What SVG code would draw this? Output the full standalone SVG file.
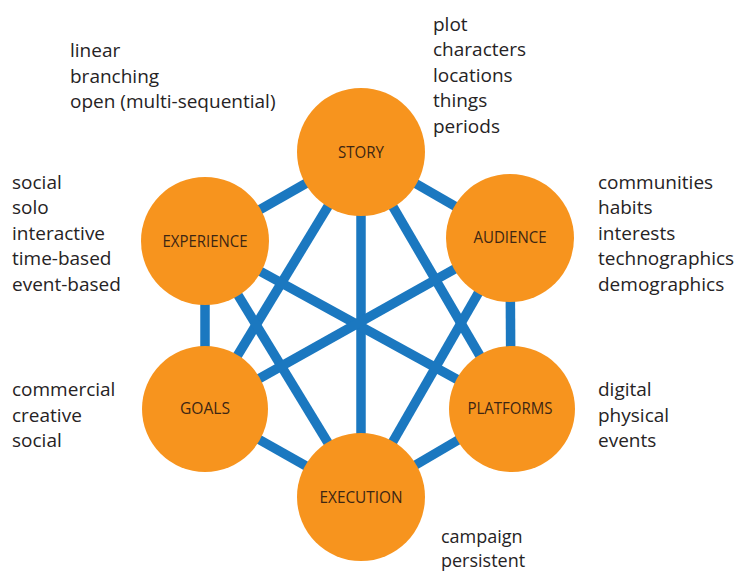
<svg xmlns="http://www.w3.org/2000/svg" width="739" height="572" viewBox="0 0 739 572">
  <style>
    .edge { stroke: #1b78c0; stroke-width: 9.5; stroke-linecap: butt; fill: none; }
    .node circle { fill: #f7941e; }
    .node text { font-family: "Open Sans", "Liberation Sans", sans-serif; font-size: 16px; fill: #3d2613; text-anchor: middle; }
    .note { font-family: "Open Sans", "Liberation Sans", sans-serif; font-size: 19px; fill: #262324; }
  </style>
  <rect width="739" height="572" fill="#ffffff"/>

  <!-- connectors between the six facets -->
  <g id="connectors">
    <line class="edge" x1="361" y1="152" x2="205" y2="241"/>
    <line class="edge" x1="361" y1="152" x2="510" y2="238"/>
    <line class="edge" x1="361" y1="152" x2="205" y2="409"/>
    <line class="edge" x1="361" y1="152" x2="511" y2="409"/>
    <line class="edge" x1="361" y1="152" x2="361" y2="497"/>
    <line class="edge" x1="205" y1="241" x2="205" y2="409"/>
    <line class="edge" x1="205" y1="241" x2="511" y2="409"/>
    <line class="edge" x1="205" y1="241" x2="361" y2="497"/>
    <line class="edge" x1="510" y1="238" x2="511" y2="409"/>
    <line class="edge" x1="510" y1="238" x2="205" y2="409"/>
    <line class="edge" x1="510" y1="238" x2="361" y2="497"/>
    <line class="edge" x1="205" y1="409" x2="361" y2="497"/>
    <line class="edge" x1="511" y1="409" x2="361" y2="497"/>
  </g>

  <g id="story" class="node">
    <circle cx="361" cy="152" r="64"/>
    <text x="361" y="158" textLength="46" lengthAdjust="spacingAndGlyphs">STORY</text>
  </g>
  <g id="audience" class="node">
    <circle cx="510" cy="238" r="64"/>
    <text x="510" y="243" textLength="73" lengthAdjust="spacingAndGlyphs">AUDIENCE</text>
  </g>
  <g id="platforms" class="node">
    <circle cx="512" cy="409" r="63"/>
    <text x="510" y="414" textLength="85" lengthAdjust="spacingAndGlyphs">PLATFORMS</text>
  </g>
  <g id="execution" class="node">
    <circle cx="361" cy="497" r="64"/>
    <text x="361" y="503" textLength="83" lengthAdjust="spacingAndGlyphs">EXECUTION</text>
  </g>
  <g id="goals" class="node">
    <circle cx="205" cy="409" r="63"/>
    <text x="205" y="414" textLength="50" lengthAdjust="spacingAndGlyphs">GOALS</text>
  </g>
  <g id="experience" class="node">
    <circle cx="205" cy="241" r="64"/>
    <text x="205" y="247" textLength="85" lengthAdjust="spacingAndGlyphs">EXPERIENCE</text>
  </g>

  <!-- attribute lists beside each facet -->
  <g id="notes-experience-structure" class="note">
    <text x="70" y="57">linear</text>
    <text x="70" y="83">branching</text>
    <text x="70" y="108">open (multi-sequential)</text>
  </g>
  <g id="notes-story" class="note">
    <text x="433" y="31">plot</text>
    <text x="433" y="56">characters</text>
    <text x="433" y="82">locations</text>
    <text x="433" y="107">things</text>
    <text x="433" y="133">periods</text>
  </g>
  <g id="notes-experience" class="note">
    <text x="12" y="189">social</text>
    <text x="12" y="214">solo</text>
    <text x="12" y="240">interactive</text>
    <text x="12" y="265">time-based</text>
    <text x="12" y="291">event-based</text>
  </g>
  <g id="notes-audience" class="note">
    <text x="598" y="189">communities</text>
    <text x="598" y="214">habits</text>
    <text x="598" y="240">interests</text>
    <text x="598" y="265">technographics</text>
    <text x="598" y="291">demographics</text>
  </g>
  <g id="notes-goals" class="note">
    <text x="12" y="396">commercial</text>
    <text x="12" y="422">creative</text>
    <text x="12" y="447">social</text>
  </g>
  <g id="notes-platforms" class="note">
    <text x="598" y="396">digital</text>
    <text x="598" y="422">physical</text>
    <text x="598" y="447">events</text>
  </g>
  <g id="notes-execution" class="note" font-size="18">
    <text x="441" y="543" style="font-size:18px">campaign</text>
    <text x="441" y="567" style="font-size:18px">persistent</text>
  </g>
</svg>
